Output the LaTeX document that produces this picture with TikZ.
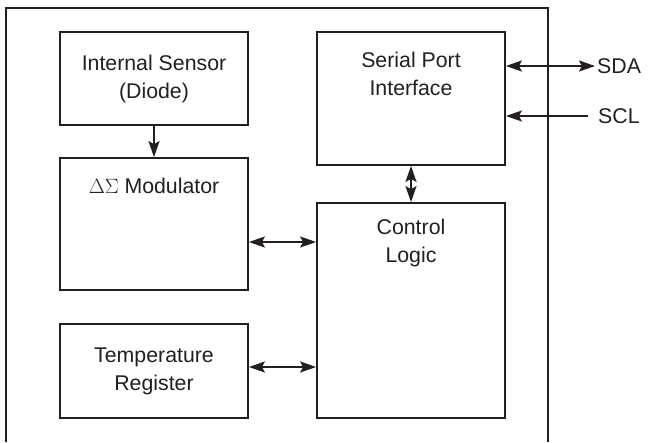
\documentclass[tikz,border=0pt]{standalone}
\usepackage{amsmath}
\usepackage{xcolor}
\usepackage{fontspec}
\setmainfont{Liberation Sans}
\usepackage{tikz}
\usetikzlibrary{positioning, arrows.meta}

\definecolor{ink}{RGB}{35,31,32}

\tikzset{
    blk/.style={draw=ink, line width=1.8pt, minimum width=188pt, inner sep=0pt},
    lbl/.style={text=ink, align=center, font=\fontsize{21.3}{28}\selectfont},
    pin/.style={lbl, inner sep=0pt, anchor=west},
    wire/.style={draw=ink, line width=1.8pt}
}

\begin{document}
\begin{tikzpicture}[x=1pt, y=-1pt, >={Stealth[length=16pt, width=11pt, inset=3pt]}]
        \useasboundingbox (0,0) rectangle (650,442);
        \coordinate (row1) at (0,242);
        \coordinate (row2) at (0,367);
        % chip outline, open at the bottom
        \draw[ink, line width=1.8pt] (6,442) |- (548,8) -- (548,442);
        \node[blk, minimum height=93pt, lbl] (sensor) at (154,78.5) {Internal Sensor\\(Diode)};
        \node[blk, minimum height=132pt, label={[lbl, anchor=center, yshift=-29pt]north:{$\Delta\Sigma$ Modulator}}] (mod) at (154,224) {};
        \node[blk, minimum height=94pt, lbl] (temp) at (154,371) {Temperature\\Register};
        \node[blk, minimum height=133pt, label={[lbl, anchor=center, yshift=-43pt]north:{Serial Port\\Interface}}] (spi) at (411,98.5) {};
        \node[blk, minimum height=215pt, label={[lbl, anchor=center, yshift=-41pt]north:{Control\\Logic}}] (cl) at (411,310.5) {};
        \node[pin] (sda) at (597,66) {SDA};
        \node[pin] (scl) at (598,116) {SCL};
        \draw[wire, ->] (sensor) -- (mod);
        \draw[wire, <->] (spi) -- (cl);
        \draw[wire, <->] (mod.east |- row1) -- (cl.west |- row1);
        \draw[wire, <->] (temp.east |- row2) -- (cl.west |- row2);
        \draw[wire, <->] (spi.east |- sda) -- ([xshift=-2pt]sda.west);
        \draw[wire, ->] ([xshift=-10pt]scl.west) -- (spi.east |- scl);
    \end{tikzpicture}
\end{document}
